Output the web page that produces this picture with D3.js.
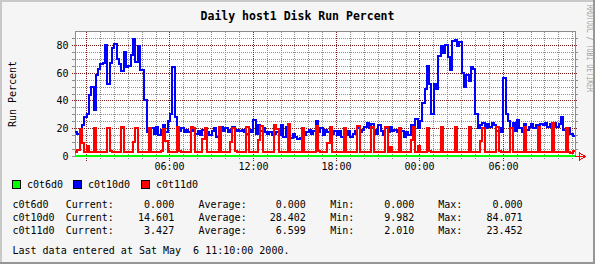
<!DOCTYPE html>
<html>
<head>
<meta charset="utf-8" />
<script src="https://d3js.org/d3.v7.min.js"></script>
<style>
  body { margin: 0; background: #f5f5f5; }
  svg { display: block; }
  text { font-family: "DejaVu Sans Mono", monospace; font-size: 10px; fill: #000; }
</style>
<title>Daily host1 Disk Run Percent</title>
</head>
<body>
<div id="chart"></div>
<script>
// one sample every 10 minutes, from Thu May 4 23:10 to Sat May 6 11:10 2000
var startTime = new Date(2000, 4, 4, 23, 10);
var endTime = new Date(2000, 4, 6, 11, 10);
var stepMinutes = 10;

var names = ["c0t6d0", "c0t10d0", "c0t11d0"];
var colors = ["#00ff00", "#0000ff", "#ff0000"];

var c0t6d0 = [
  0,0,0,0,0,0,0,0,0,0,0,0,0,0,0,0,0,0,0,0,0,0,0,0,
  0,0,0,0,0,0,0,0,0,0,0,0,0,0,0,0,0,0,0,0,0,0,0,0,
  0,0,0,0,0,0,0,0,0,0,0,0,0,0,0,0,0,0,0,0,0,0,0,0,
  0,0,0,0,0,0,0,0,0,0,0,0,0,0,0,0,0,0,0,0,0,0,0,0,
  0,0,0,0,0,0,0,0,0,0,0,0,0,0,0,0,0,0,0,0,0,0,0,0,
  0,0,0,0,0,0,0,0,0,0,0,0,0,0,0,0,0,0,0,0,0,0,0,0,
  0,0,0,0,0,0,0,0,0,0,0,0,0,0,0,0,0,0,0,0,0,0,0,0,
  0,0,0,0,0,0,0,0,0,0,0,0,0,0,0,0,0,0,0,0,0,0,0,0,
  0,0,0,0,0,0,0,0,0,0,0,0,0,0,0,0,0,0,0,0,0,0,0,0
];

var c0t10d0 = [
  17, 16, 19, 22, 28, 30, 44, 50, 33, 58, 63, 66,
  67, 80, 52, 67, 78, 81, 70, 66, 61, 75, 64, 65,
  73, 84.07, 68, 79, 62, 62, 40, 17, 15, 20, 16, 21,
  15, 19, 22, 17, 25, 30, 64, 28, 20, 18, 20, 17,
  19, 17, 18, 20, 16, 18, 15, 19, 14, 17, 15, 18,
  20, 14, 17, 21, 18, 20, 17, 19, 21, 18, 19, 18,
  19, 17, 16, 19, 17, 26, 16, 22, 18, 20, 17, 16,
  17, 15, 16, 17, 15, 22, 14, 21, 15, 13, 16, 14,
  12, 13, 9.98, 15, 17, 19, 16, 18, 25, 17, 20, 15,
  19, 17, 20, 16, 18, 15, 18, 14, 17, 15, 18, 14,
  16, 18, 20, 17, 19, 21, 24, 20, 23, 19, 16, 22,
  18, 15, 20, 17, 21, 18, 19, 17, 20, 18, 14, 17,
  15, 22, 18, 27, 20, 25, 38, 48, 65, 52, 30, 52,
  48, 72, 79, 74, 80, 71, 62, 83, 83.5, 79, 82, 60,
  50, 58, 54, 64, 63, 30, 20, 22, 24, 20, 23, 21,
  24, 22, 18, 20, 17, 56, 30, 25, 20, 24, 18, 26,
  20, 17, 23, 19, 21, 23, 20, 22, 21, 23, 22, 24,
  21, 23, 22, 24, 21, 23, 28, 19, 17, 20, 16, 14.601
];

// one row per hour, the spike sits at :30
var c0t11d0 = [
  3.2, 4.1, 19.5, 9.5, 3.1, 7.0,
  3.0, 2.8, 20.3, 3.2, 3.1, 3.0,
  3.1, 3.0, 20.1, 3.3, 2.9, 3.2,
  2.9, 3.1, 20.6, 3.0, 3.0, 3.1,
  3.0, 9.8, 20.2, 3.1, 2.8, 3.0,
  3.2, 3.0, 20.4, 3.2, 3.0, 2.9,
  3.1, 3.3, 19.8, 11.0, 3.1, 3.0,
  3.0, 2.9, 21.0, 3.4, 3.2, 3.0,
  3.1, 3.0, 20.6, 20.2, 3.0, 3.1,
  3.0, 12.5, 20.1, 3.1, 2.9, 3.2,
  3.1, 3.0, 21.2, 3.0, 3.1, 3.0,
  3.2, 10.4, 20.3, 3.3, 3.0, 2.9,
  3.0, 3.1, 20.8, 3.2, 3.1, 3.0,
  2.9, 11.2, 21.5, 3.0, 3.1, 3.2,
  3.1, 3.0, 22.0, 19.8, 3.0, 3.1,
  3.0, 3.2, 23.1, 3.1, 3.0, 2.9,
  3.1, 3.0, 20.4, 3.2, 3.1, 3.0,
  3.0, 2.9, 21.6, 3.3, 3.0, 3.1,
  3.2, 9.1, 20.8, 3.0, 3.1, 3.0,
  3.0, 3.1, 20.2, 3.2, 2.9, 3.1,
  2.9, 3.0, 21.4, 3.1, 3.0, 3.2,
  3.1, 3.2, 20.6, 3.0, 3.1, 3.0,
  3.0, 3.1, 20.9, 3.2, 6.8, 3.0,
  3.1, 3.0, 20.5, 3.1, 3.0, 2.9,
  3.0, 11.5, 20.7, 3.0, 7.5, 3.0,
  3.1, 3.0, 20.3, 3.3, 3.0, 3.1,
  3.0, 3.1, 20.8, 3.1, 3.2, 3.0,
  2.9, 3.0, 21.1, 3.2, 3.0, 3.1,
  3.1, 3.2, 20.6, 3.0, 3.1, 3.0,
  3.0, 10.6, 20.2, 3.1, 3.0, 3.2,
  3.1, 3.0, 20.9, 3.3, 3.1, 3.0,
  3.0, 3.1, 20.4, 3.0, 2.9, 3.1,
  3.2, 3.0, 20.7, 3.1, 3.0, 3.0,
  3.0, 3.2, 21.0, 3.2, 3.1, 2.9,
  3.1, 3.0, 23.45, 3.0, 3.1, 3.0,
  3.0, 3.2, 20.5, 3.1, 2.01, 3.427
];

var yTicks = [0, 20, 40, 60, 80];
var xTickTimes = [new Date(2000, 4, 5, 6), new Date(2000, 4, 5, 12), new Date(2000, 4, 5, 18),
                  new Date(2000, 4, 6, 0), new Date(2000, 4, 6, 6)];
var xTickLabels = ["06:00", "12:00", "18:00", "00:00", "06:00"];

var statLabels = ["Current:", "Average:", "Min:", "Max:"];
var statValues = [
  ["0.000", "0.000", "0.000", "0.000"],
  ["14.601", "28.402", "9.982", "84.071"],
  ["3.427", "6.599", "2.010", "23.452"]
];

var W = 595, H = 264;
var svg = d3.select("#chart").append("svg")
    .attr("width", W)
    .attr("height", H);

// background and the 3d border
svg.append("rect").attr("width", W).attr("height", H).attr("fill", "#f5f5f5");
svg.append("rect").attr("x", 0).attr("y", 0).attr("width", W).attr("height", 2).attr("fill", "#c8c8c8");
svg.append("rect").attr("x", 0).attr("y", 0).attr("width", 2).attr("height", H).attr("fill", "#c8c8c8");
svg.append("rect").attr("x", 0).attr("y", H - 2).attr("width", W).attr("height", 2).attr("fill", "#969696");
svg.append("rect").attr("x", W - 2).attr("y", 0).attr("width", 2).attr("height", H).attr("fill", "#969696");

var x = d3.scaleTime().domain([startTime, endTime]).range([75, 575]);
var y = d3.scaleLinear().domain([0, 90]).range([156, 31]);
function cx(v) { return Math.floor(v) + 0.5; }
function cy(v) { return Math.round(v) + 0.5; }

var plotLeft = 75, plotRight = 575, plotTop = cy(y(90)), plotBottom = cy(y(0));

// canvas
svg.append("rect")
    .attr("x", plotLeft).attr("y", plotTop - 0.5)
    .attr("width", plotRight - plotLeft).attr("height", plotBottom - plotTop + 0.5)
    .attr("fill", "#ffffff");

var grid = svg.append("g").attr("shape-rendering", "crispEdges");

// minor grid
var minorY = d3.range(5, 90, 5).filter(function(v) { return v % 20 != 0; });
grid.selectAll(".minory").data(minorY).enter().append("line")
    .attr("x1", plotLeft).attr("x2", plotRight)
    .attr("y1", function(d) { return cy(y(d)); })
    .attr("y2", function(d) { return cy(y(d)); })
    .attr("stroke", "#8c8c8c").attr("stroke-dasharray", "1,1");
grid.selectAll(".minoryt").data(minorY).enter().append("path")
    .attr("d", function(d) { var p = cy(y(d)); return "M72," + p + "H75M575," + p + "H578"; })
    .attr("stroke", "#8c8c8c");

var hours = d3.timeHour.every(1).range(startTime, endTime);
var minorX = hours.filter(function(d) { return d.getHours() % 6 != 0; });
var majorX = hours.filter(function(d) { return d.getHours() % 6 == 0; });
grid.selectAll(".minorx").data(minorX).enter().append("line")
    .attr("x1", function(d) { return cx(x(d)); })
    .attr("x2", function(d) { return cx(x(d)); })
    .attr("y1", plotTop).attr("y2", plotBottom + 3)
    .attr("stroke", "#8c8c8c").attr("stroke-dasharray", "1,1");

// major grid
var majorY = yTicks.filter(function(v) { return v > 0; });
grid.selectAll(".majory").data(majorY).enter().append("line")
    .attr("x1", 72).attr("x2", 578)
    .attr("y1", function(d) { return cy(y(d)); })
    .attr("y2", function(d) { return cy(y(d)); })
    .attr("stroke", "#821e1e").attr("stroke-dasharray", "1,1");
grid.selectAll(".majorx").data(majorX).enter().append("line")
    .attr("x1", function(d) { return cx(x(d)); })
    .attr("x2", function(d) { return cx(x(d)); })
    .attr("y1", plotTop).attr("y2", plotBottom + 4)
    .attr("stroke", "#821e1e").attr("stroke-dasharray", "1,1");

// frame
grid.append("path")
    .attr("d", "M" + (plotLeft + 0.5) + "," + plotBottom + "V" + plotTop + "H" + (plotRight + 0.5) + "V" + plotBottom)
    .attr("fill", "none").attr("stroke", "#8c8c8c");
grid.append("line")
    .attr("x1", 72).attr("x2", 584).attr("y1", plotBottom).attr("y2", plotBottom)
    .attr("stroke", "#8c8c8c");

// y labels
svg.selectAll(".ylab").data(yTicks).enter().append("text")
    .attr("x", 68.5).attr("y", function(d) { return cy(y(d)) + 3.5; })
    .attr("text-anchor", "end")
    .text(function(d) { return d; });

// x labels
svg.selectAll(".xlab").data(xTickTimes).enter().append("text")
    .attr("x", function(d) { return cx(x(d)); })
    .attr("y", 170)
    .attr("text-anchor", "middle")
    .text(function(d, i) { return xTickLabels[i]; });

// series, drawn as steps like rrdtool does
var series = [c0t6d0, c0t10d0, c0t11d0];
var line = d3.line()
    .x(function(d) { return x(d[0]); })
    .y(function(d) { return y(d[1]); })
    .curve(d3.curveStepAfter);

series.forEach(function(values, k) {
  var pts = values.map(function(v, i) {
    return [d3.timeMinute.offset(startTime, i * stepMinutes), v];
  });
  pts.push([endTime, values[values.length - 1]]);
  svg.append("path")
      .attr("d", line(pts))
      .attr("fill", "none")
      .attr("stroke", colors[k])
      .attr("stroke-width", 2)
      .attr("shape-rendering", "crispEdges");
});

// arrow at the end of the time axis
svg.append("path")
    .attr("d", "M575," + plotBottom + "H586M579.5,153V160L585.5," + plotBottom + "Z")
    .attr("fill", "none").attr("stroke", "#ff0000")
    .attr("shape-rendering", "crispEdges");

// titles
svg.append("text")
    .attr("x", 297.5).attr("y", 19.5)
    .attr("text-anchor", "middle")
    .style("font-size", "11.5px").style("font-weight", "bold")
    .text("Daily host1 Disk Run Percent");

svg.append("text")
    .attr("transform", "translate(16,94) rotate(-90)")
    .attr("text-anchor", "middle")
    .text("Run Percent");

svg.append("text")
    .attr("transform", "translate(586.5,5) rotate(90)")
    .attr("textLength", 87).attr("lengthAdjust", "spacingAndGlyphs")
    .style("font-size", "9px").style("fill", "#a0a0a0")
    .text("RRDTOOL / TOBI OETIKER");

// legend
var legendX = [12, 73, 141];
var legend = svg.selectAll(".legend").data(names).enter().append("g");
legend.append("rect")
    .attr("x", function(d, i) { return legendX[i] + 0.5; })
    .attr("y", 180.5).attr("width", 8).attr("height", 8)
    .attr("fill", function(d, i) { return colors[i]; })
    .attr("stroke", "#000").attr("shape-rendering", "crispEdges");
legend.append("text")
    .attr("x", function(d, i) { return legendX[i] + 15; })
    .attr("y", 188)
    .text(function(d) { return d; });

// GPRINT rows
var labelX = [65.7, 198.5, 330.2, 438.3];
var valueX = [174.2, 305.9, 414.4, 522.6];
var rowY = [208, 221, 234];
names.forEach(function(n, r) {
  svg.append("text").attr("x", 12.5).attr("y", rowY[r]).text(n);
  statLabels.forEach(function(lab, j) {
    svg.append("text").attr("x", labelX[j]).attr("y", rowY[r]).text(lab);
    svg.append("text").attr("x", valueX[j]).attr("y", rowY[r])
        .attr("text-anchor", "end").text(statValues[r][j]);
  });
});

svg.append("text")
    .attr("x", 12.5).attr("y", 254)
    .attr("xml:space", "preserve")
    .style("white-space", "pre")
    .text("Last data entered at Sat May  6 11:10:00 2000.");
</script>
</body>
</html>
